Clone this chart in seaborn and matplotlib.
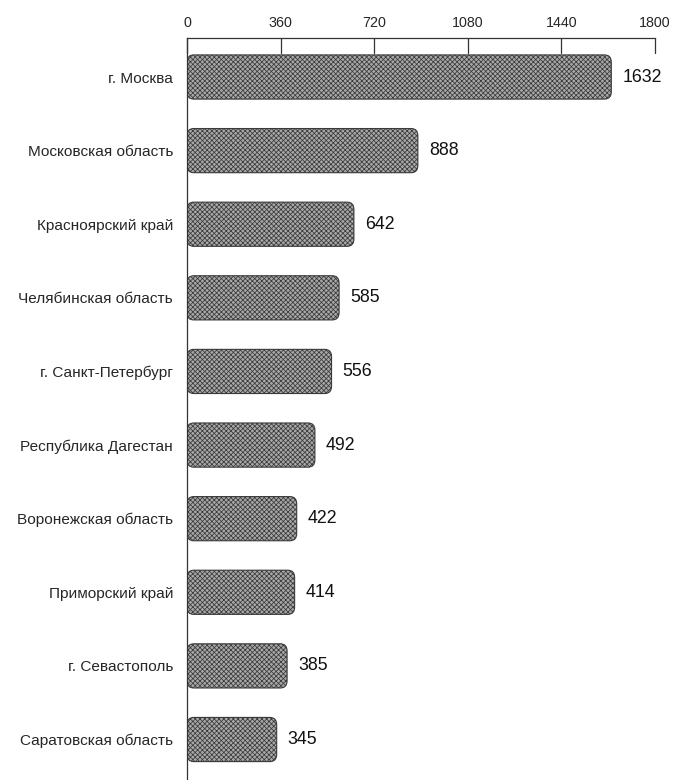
import matplotlib
matplotlib.use("Agg")
import matplotlib.pyplot as plt
from matplotlib.patches import FancyBboxPatch
import seaborn as sns
import pandas as pd

regiones = [
    "г. Москва",
    "Московская область",
    "Красноярский край",
    "Челябинская область",
    "г. Санкт-Петербург",
    "Республика Дагестан",
    "Воронежская область",
    "Приморский край",
    "г. Севастополь",
    "Саратовская область",
]
valores = [1632, 888, 642, 585, 556, 492, 422, 414, 385, 345]
ticks_x = [0, 360, 720, 1080, 1440, 1800]

df = pd.DataFrame({"region": regiones, "valor": valores})

sns.set_style("white")
plt.rcParams["font.family"] = ["Liberation Sans", "DejaVu Sans"]
plt.rcParams["hatch.color"] = "#5e5e5e"
plt.rcParams["hatch.linewidth"] = 0.55

fig = plt.figure(figsize=(6.76, 7.80), dpi=100)
ax = fig.add_axes([0.2766, 0.0, 0.6923, 0.9513])

sns.barplot(data=df, x="valor", y="region", orient="h", width=0.6,
            color="#a8a8a8", saturation=1, ax=ax)

# barras con esquinas redondeadas
bar_patches = list(ax.patches)
for p in bar_patches:
    x0, y0 = p.get_x(), p.get_y()
    w, h = p.get_width(), p.get_height()
    p.remove()
    fb = FancyBboxPatch((x0, y0), w, h,
                        boxstyle="round,pad=0,rounding_size=26",
                        mutation_aspect=0.0038,
                        facecolor="#a8a8a8", edgecolor="#3a3a3a",
                        linewidth=0.8, hatch="xxxxxxx", zorder=2)
    ax.add_patch(fb)

for i, v in enumerate(valores):
    ax.text(v + 42, i, str(v), va="center", ha="left", fontsize=12.8, color="#111111")

ax.set_xlim(0, 1800)
ax.set_ylim(9.55, -0.53)
ax.set_xticks(ticks_x)
ax.xaxis.tick_top()
ax.tick_params(axis="x", direction="in", length=0, labelsize=10.3, pad=6)
ax.tick_params(axis="y", length=0, labelsize=11.1, pad=10)
for t in ticks_x:
    ax.plot([t, t], [-0.53, -0.33], color="#333333", lw=0.9, clip_on=False, zorder=3)
ax.set_xlabel("")
ax.set_ylabel("")

for s in ["right", "bottom"]:
    ax.spines[s].set_visible(False)
for s in ["top", "left"]:
    ax.spines[s].set_color("#333333")
    ax.spines[s].set_linewidth(0.9)

fig.savefig("out.png", dpi=100)
